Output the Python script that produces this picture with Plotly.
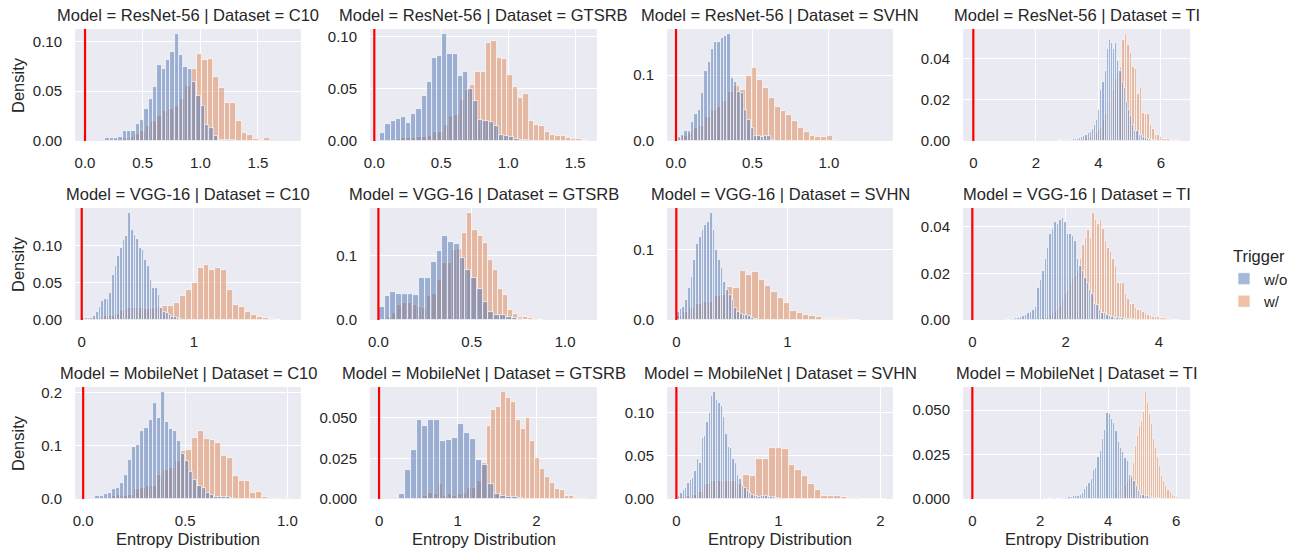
import plotly.graph_objects as go

W, H = 1298, 548
FONT = "Liberation Sans, Arial, sans-serif"
TXT = "#262626"

models = ["ResNet-56", "VGG-16", "MobileNet"]
datasets = ["C10", "GTSRB", "SVHN", "TI"]
hue_labels = ["w/o", "w/"]

# ---------------- data: (bin start, bin width) and densities per hue ----------------
resnet_c10_wo_bins = (0.10, 0.0376)
resnet_c10_wo = [0.001,0.001,0.003,0.003,0.003,0.004,0.010,0.010,0.010,0.017,0.021,0.032,0.042,0.054,0.076,0.072,0.081,0.089,0.107,0.086,0.074,0.072,0.059,0.045,0.035,0.016,0.013,0.005,0.001,0.001,0.001,0.001]
resnet_c10_w_bins = (0.33, 0.049)
resnet_c10_w = [0.003,0.004,0.007,0.010,0.015,0.020,0.025,0.030,0.032,0.035,0.042,0.055,0.072,0.087,0.081,0.082,0.064,0.053,0.038,0.038,0.020,0.008,0.006,0.002,0.001,0.003]

resnet_gtsrb_wo_bins = (0.045, 0.0385)
resnet_gtsrb_wo = [0.008,0.016,0.019,0.021,0.023,0.017,0.026,0.031,0.043,0.056,0.079,0.081,0.102,0.083,0.083,0.062,0.066,0.050,0.038,0.020,0.019,0.018,0.014,0.006,0.005,0.004,0.002,0.001,0.001]
resnet_gtsrb_w_bins = (0.16, 0.0397)
resnet_gtsrb_w = [0.002,0.003,0.003,0.003,0.004,0.004,0.005,0.009,0.009,0.015,0.024,0.025,0.039,0.049,0.054,0.066,0.066,0.094,0.096,0.079,0.078,0.063,0.052,0.041,0.045,0.019,0.015,0.014,0.009,0.006,0.005,0.005,0.003,0.002,0.002,0.001]

resnet_svhn_wo_bins = (0.011, 0.0217)
resnet_svhn_wo = [0.006,0.009,0.015,0.015,0.029,0.041,0.047,0.073,0.107,0.120,0.140,0.150,0.151,0.156,0.160,0.162,0.095,0.090,0.075,0.073,0.047,0.032,0.019,0.008,0.007,0.006,0.007,0.008,0.002]
resnet_svhn_w_bins = (0.0, 0.038)
resnet_svhn_w = [0.003,0.007,0.012,0.020,0.023,0.037,0.047,0.052,0.060,0.075,0.083,0.078,0.098,0.111,0.093,0.080,0.065,0.052,0.045,0.040,0.031,0.019,0.014,0.008,0.006,0.006,0.008,0.002]

resnet_ti_wo_bins = (2.7, 0.068)
resnet_ti_wo = [0.0003,0,0.0003,0.0003,0.0005,0.0005,0.0005,0.0008,0.001,0.001,0.0015,0.002,0.0025,0.003,0.004,0.0046,0.006,0.008,0.010,0.015,0.025,0.029,0.034,0.045,0.049,0.048,0.045,0.048,0.039,0.034,0.029,0.026,0.019,0.015,0.012,0.008,0.005,0.005,0.003,0.003,0.002,0.0015,0.001,0.0008,0.0005,0.0003]
resnet_ti_w_bins = (2.7, 0.0796)
resnet_ti_w = [0.0003,0.0003,0.0005,0.0003,0.0005,0.0003,0.0005,0.0005,0.0003,0.0005,0.0008,0.001,0.0013,0.002,0.003,0.004,0.005,0.007,0.010,0.013,0.017,0.020,0.025,0.030,0.033,0.036,0.049,0.052,0.047,0.043,0.036,0.035,0.023,0.026,0.0135,0.013,0.013,0.008,0.006,0.003,0.003,0.002,0.001,0.001,0.001,0.0003,0.0003,0.0003,0.0003]

vgg_c10_wo_bins = (0.006, 0.024)
vgg_c10_wo = [0.003,0.003,0.003,0.003,0.005,0.011,0.018,0.025,0.029,0.029,0.037,0.061,0.073,0.086,0.097,0.108,0.113,0.144,0.121,0.115,0.109,0.097,0.095,0.081,0.073,0.054,0.043,0.043,0.034,0.016,0.011,0.009,0.007,0.0045,0.0036,0.003,0.002]
vgg_c10_w_bins = (0.028, 0.0529)
vgg_c10_w = [0.002,0.003,0.003,0.005,0.005,0.008,0.014,0.016,0.016,0.016,0.015,0.016,0.017,0.019,0.019,0.023,0.032,0.041,0.050,0.070,0.074,0.068,0.070,0.068,0.041,0.020,0.018,0.011,0.007,0.0045,0.0027,0.001,0.0005]

vgg_gtsrb_wo_bins = (0.0025, 0.0309)
vgg_gtsrb_wo = [0.020,0.037,0.044,0.041,0.040,0.040,0.039,0.066,0.065,0.091,0.108,0.130,0.122,0.119,0.097,0.078,0.065,0.049,0.028,0.013,0.008,0.008,0.004,0.0026,0.001,0.0005]
vgg_gtsrb_w_bins = (0.018, 0.027)
vgg_gtsrb_w = [0.002,0.005,0.011,0.023,0.026,0.027,0.023,0.021,0.019,0.037,0.041,0.062,0.088,0.089,0.109,0.110,0.135,0.166,0.140,0.131,0.120,0.094,0.078,0.049,0.039,0.016,0.010,0.005,0.004,0.0026,0.001,0.0005]

vgg_svhn_wo_bins = (0.006, 0.0246)
vgg_svhn_wo = [0.012,0.015,0.018,0.028,0.045,0.061,0.085,0.108,0.118,0.127,0.135,0.139,0.151,0.128,0.099,0.085,0.073,0.054,0.042,0.035,0.028,0.017,0.012,0.009,0.007,0.007,0.005,0.003,0.002,0.001]
vgg_svhn_w_bins = (0.0, 0.057)
vgg_svhn_w = [0.005,0.012,0.017,0.023,0.025,0.025,0.034,0.035,0.047,0.045,0.070,0.064,0.068,0.056,0.048,0.040,0.031,0.024,0.013,0.010,0.007,0.0057,0.004,0.002,0.001,0.001,0.001,0.0005,0.0005]

vgg_ti_wo_bins = (0.7, 0.053)
vgg_ti_wo = [0.0003,0.0002,0.0004,0.0005,0.0007,0.001,0.0014,0.0017,0.0023,0.003,0.0036,0.0043,0.0054,0.0136,0.017,0.021,0.026,0.031,0.037,0.039,0.042,0.041,0.043,0.0436,0.042,0.037,0.037,0.036,0.034,0.026,0.023,0.021,0.018,0.016,0.013,0.011,0.007,0.0064,0.0043,0.003,0.003,0.002,0.0017,0.0014,0.001,0.001,0.0007,0.0007,0.0004,0.0003,0.0003,0.0003]
vgg_ti_w_bins = (1.45, 0.0535)
vgg_ti_w = [0.0005,0.0007,0.001,0.0015,0.002,0.0028,0.0036,0.0046,0.006,0.0086,0.011,0.013,0.016,0.018,0.019,0.021,0.026,0.032,0.035,0.0386,0.035,0.0457,0.043,0.041,0.043,0.039,0.034,0.031,0.029,0.026,0.023,0.016,0.016,0.016,0.011,0.009,0.007,0.007,0.005,0.0043,0.0043,0.0036,0.003,0.002,0.0017,0.0014,0.0014,0.0014,0.001,0.0007,0.0007,0.0004,0.0003,0.0002,0.0002,0.0002]

mobilenet_c10_wo_bins = (0.02, 0.02)
mobilenet_c10_wo = [0.002,0.001,0.006,0.005,0.009,0.011,0.018,0.021,0.031,0.046,0.074,0.098,0.101,0.128,0.134,0.148,0.181,0.153,0.201,0.145,0.131,0.128,0.109,0.085,0.071,0.05,0.035,0.025,0.02,0.011,0.007,0.004,0.003,0.003,0.003,0.001]
mobilenet_c10_w_bins = (0.135, 0.0285)
mobilenet_c10_w = [0.005,0.008,0.005,0.008,0.018,0.021,0.025,0.025,0.046,0.055,0.058,0.071,0.090,0.092,0.115,0.128,0.113,0.112,0.106,0.081,0.077,0.043,0.033,0.033,0.011,0.014,0.003,0.002,0.002,0.001,0.001]

mobilenet_gtsrb_wo_bins = (0.25, 0.0755)
mobilenet_gtsrb_wo = [0.0033,0.018,0.030,0.049,0.045,0.0486,0.049,0.036,0.0366,0.0377,0.046,0.041,0.037,0.024,0.021,0.0095,0.0033,0.002,0.001,0.001,0.0006]
mobilenet_gtsrb_w_bins = (0.56, 0.062)
mobilenet_gtsrb_w = [0.002,0.004,0.003,0.009,0.002,0.003,0.002,0.003,0.004,0.007,0.007,0.011,0.022,0.045,0.055,0.057,0.0658,0.062,0.060,0.049,0.043,0.050,0.036,0.025,0.0185,0.0136,0.0099,0.006,0.0053,0.002,0.0016,0.0008,0.0006,0.0006]

mobilenet_svhn_wo_bins = (0.015, 0.0232)
mobilenet_svhn_wo = [0.004,0.007,0.011,0.013,0.019,0.022,0.024,0.032,0.0465,0.042,0.071,0.073,0.090,0.100,0.120,0.124,0.1155,0.1116,0.108,0.095,0.075,0.060,0.059,0.046,0.042,0.028,0.023,0.015,0.013,0.009,0.007,0.005,0.004,0.003,0.002,0.004,0.004,0.003,0.002,0.002,0.002,0.001,0.001]
mobilenet_svhn_w_bins = (0.017, 0.0637)
mobilenet_svhn_w = [0.002,0.003,0.005,0.008,0.017,0.0205,0.0205,0.0205,0.0205,0.017,0.028,0.027,0.0465,0.0465,0.059,0.059,0.058,0.039,0.034,0.027,0.017,0.010,0.004,0.004,0.003,0.002,0.001,0.001,0.0005,0.0005,0.0003,0.0003]

mobilenet_ti_wo_bins = (2.1, 0.066)
mobilenet_ti_wo = [0.0005,0.0003,0.0002,0.0002,0.0003,0.0005,0.0002,0.0002,0.0005,0.0008,0.0008,0.001,0.0012,0.0015,0.0019,0.0019,0.0024,0.0034,0.0056,0.0075,0.009,0.0113,0.0165,0.0175,0.0237,0.0269,0.0338,0.039,0.0485,0.048,0.045,0.043,0.038,0.032,0.0288,0.0263,0.023,0.0212,0.0137,0.0124,0.010,0.0075,0.0043,0.0024,0.0024,0.0019,0.0015,0.0012,0.0008,0.0005,0.0003,0.0002]
mobilenet_ti_w_bins = (4.2, 0.0595)
mobilenet_ti_w = [0.003,0.004,0.005,0.006,0.007,0.008,0.0095,0.011,0.0137,0.020,0.030,0.0357,0.041,0.044,0.049,0.060,0.054,0.048,0.042,0.034,0.0288,0.0237,0.0184,0.0128,0.010,0.0075,0.0053,0.0038,0.0024,0.0015,0.001,0.0004]

# axis limits and ticks per panel (row-major)
x_limits = [[-0.087, 1.873], [-0.032, 1.663], [-0.059, 1.42], [-0.33, 6.93],
            [-0.06, 1.955], [-0.045, 1.171], [-0.084, 1.95], [-0.20, 4.667],
            [-0.04, 1.067], [-0.115, 2.77], [-0.092, 2.124], [-0.275, 6.41]]
x_ticks = [[0, 0.5, 1.0, 1.5], [0, 0.5, 1.0, 1.5], [0, 0.5, 1.0], [0, 2, 4, 6],
           [0, 1], [0, 0.5, 1.0], [0, 1], [0, 2, 4],
           [0, 0.5, 1.0], [0, 1, 2], [0, 1, 2], [0, 2, 4, 6]]
x_fmt = [".1f", ".1f", ".1f", "d", "d", ".1f", "d", "d", ".1f", "d", "d", "d"]
y_ticks = [[0, 0.05, 0.10], [0, 0.05, 0.10], [0, 0.1], [0, 0.02, 0.04],
           [0, 0.05, 0.10], [0, 0.1], [0, 0.1], [0, 0.02, 0.04],
           [0, 0.1, 0.2], [0, 0.025, 0.05], [0, 0.05, 0.10], [0, 0.025, 0.05]]
y_fmt = [".2f", ".2f", ".1f", ".2f", ".2f", ".1f", ".1f", ".2f", ".1f", ".3f", ".2f", ".3f"]

series = {
    ("ResNet-56", "C10"): (resnet_c10_wo_bins, resnet_c10_wo, resnet_c10_w_bins, resnet_c10_w),
    ("ResNet-56", "GTSRB"): (resnet_gtsrb_wo_bins, resnet_gtsrb_wo, resnet_gtsrb_w_bins, resnet_gtsrb_w),
    ("ResNet-56", "SVHN"): (resnet_svhn_wo_bins, resnet_svhn_wo, resnet_svhn_w_bins, resnet_svhn_w),
    ("ResNet-56", "TI"): (resnet_ti_wo_bins, resnet_ti_wo, resnet_ti_w_bins, resnet_ti_w),
    ("VGG-16", "C10"): (vgg_c10_wo_bins, vgg_c10_wo, vgg_c10_w_bins, vgg_c10_w),
    ("VGG-16", "GTSRB"): (vgg_gtsrb_wo_bins, vgg_gtsrb_wo, vgg_gtsrb_w_bins, vgg_gtsrb_w),
    ("VGG-16", "SVHN"): (vgg_svhn_wo_bins, vgg_svhn_wo, vgg_svhn_w_bins, vgg_svhn_w),
    ("VGG-16", "TI"): (vgg_ti_wo_bins, vgg_ti_wo, vgg_ti_w_bins, vgg_ti_w),
    ("MobileNet", "C10"): (mobilenet_c10_wo_bins, mobilenet_c10_wo, mobilenet_c10_w_bins, mobilenet_c10_w),
    ("MobileNet", "GTSRB"): (mobilenet_gtsrb_wo_bins, mobilenet_gtsrb_wo, mobilenet_gtsrb_w_bins, mobilenet_gtsrb_w),
    ("MobileNet", "SVHN"): (mobilenet_svhn_wo_bins, mobilenet_svhn_wo, mobilenet_svhn_w_bins, mobilenet_svhn_w),
    ("MobileNet", "TI"): (mobilenet_ti_wo_bins, mobilenet_ti_wo, mobilenet_ti_w_bins, mobilenet_ti_w),
}

# ---------------- layout geometry (pixels) ----------------
col_px = [(75, 301), (370, 597), (667, 893), (963, 1190)]
row_px = [(29, 141), (208, 320), (387, 499)]

BLUE = "rgba(76,114,176,0.5)"
ORANGE = "rgba(221,132,82,0.5)"
EDGE = "rgba(255,255,255,0.85)"

fig = go.Figure()
layout = dict(
    template="none",
    width=W, height=H, autosize=False, margin=dict(l=0, r=0, t=0, b=0, pad=0),
    paper_bgcolor="white", plot_bgcolor="#EAEAF2",
    barmode="overlay", bargap=0,
    font=dict(family=FONT, color=TXT, size=15),
    showlegend=True,
    legend=dict(
        x=1294 / W, xanchor="right", y=1 - 241 / H, yanchor="top",
        title=dict(text="Trigger", font=dict(size=16.5, color=TXT), side="top center"),
        font=dict(size=15, color=TXT), bgcolor="rgba(0,0,0,0)", borderwidth=0,
        itemwidth=30, tracegroupgap=0,
    ),
)
annotations = []
shapes = []

def bar_trace(bins, vals, color, name, axn, show):
    start, width = bins
    lefts = [start + i * width for i in range(len(vals))]
    return go.Bar(
        x=lefts, y=vals, width=width, offset=0,
        marker=dict(color=color, line=dict(color=EDGE, width=0.8)),
        name=name, legendgroup=name, showlegend=show,
        legendrank=1 if name == "w/o" else 2,
        xaxis="x" + ("" if axn == 1 else str(axn)),
        yaxis="y" + ("" if axn == 1 else str(axn)),
        hoverinfo="skip",
    )

k = 0
for r, model in enumerate(models):
    for c, ds in enumerate(datasets):
        axn = k + 1
        wo_bins, wo_vals, w_bins, w_vals = series[(model, ds)]
        first = (k == 0)
        # orange (w/) underneath, blue (w/o) on top, as seaborn draws it
        fig.add_trace(bar_trace(w_bins, w_vals, ORANGE, hue_labels[1], axn, first))
        fig.add_trace(bar_trace(wo_bins, wo_vals, BLUE, hue_labels[0], axn, first))

        ymax = 1.05 * max(max(wo_vals), max(w_vals))
        x0, x1 = col_px[c]
        y0, y1 = row_px[r]
        sfx = "" if axn == 1 else str(axn)
        layout["xaxis" + sfx] = dict(
            domain=[x0 / W, x1 / W], anchor="y" + sfx, range=x_limits[k],
            tickvals=x_ticks[k], tickformat=x_fmt[k], showgrid=True, automargin=False,
            gridcolor="white", gridwidth=1.3, zeroline=False, showline=False,
            ticks="", ticklabelstandoff=11, tickfont=dict(size=15, color=TXT),
        )
        layout["yaxis" + sfx] = dict(
            domain=[1 - y1 / H, 1 - y0 / H], anchor="x" + sfx, range=[0, ymax],
            tickvals=y_ticks[k], tickformat=y_fmt[k], showgrid=True, automargin=False,
            gridcolor="white", gridwidth=1.3, zeroline=False, showline=False,
            ticks="", ticklabelstandoff=12, tickfont=dict(size=15, color=TXT),
        )
        # red reference line at entropy = 0
        shapes.append(dict(type="line", xref="x" + sfx, yref="y" + sfx + " domain",
                           x0=0, x1=0, y0=0, y1=1, line=dict(color="red", width=2.2)))
        # facet title
        annotations.append(dict(
            text=f"Model = {model} | Dataset = {ds}", xref="paper", yref="paper",
            x=(x0 + x1) / 2 / W, y=1 - (y0 - 14) / H, xanchor="center", yanchor="middle",
            showarrow=False, font=dict(size=16.5, color=TXT),
        ))
        if c == 0:
            annotations.append(dict(
                text="Density", xref="paper", yref="paper", x=18 / W,
                y=1 - (y0 + y1) / 2 / H, textangle=-90, showarrow=False,
                xanchor="center", yanchor="middle", font=dict(size=16.5, color=TXT),
            ))
        if r == len(models) - 1:
            annotations.append(dict(
                text="Entropy Distribution", xref="paper", yref="paper",
                x=(x0 + x1) / 2 / W, y=1 - 539 / H, showarrow=False,
                xanchor="center", yanchor="middle", font=dict(size=16.5, color=TXT),
            ))
        k += 1

layout["annotations"] = annotations
layout["shapes"] = shapes
fig.update_layout(**layout)
fig.write_html("out.html", config={"displayModeBar": False},
               post_script="document.body.style.margin='0px';")
